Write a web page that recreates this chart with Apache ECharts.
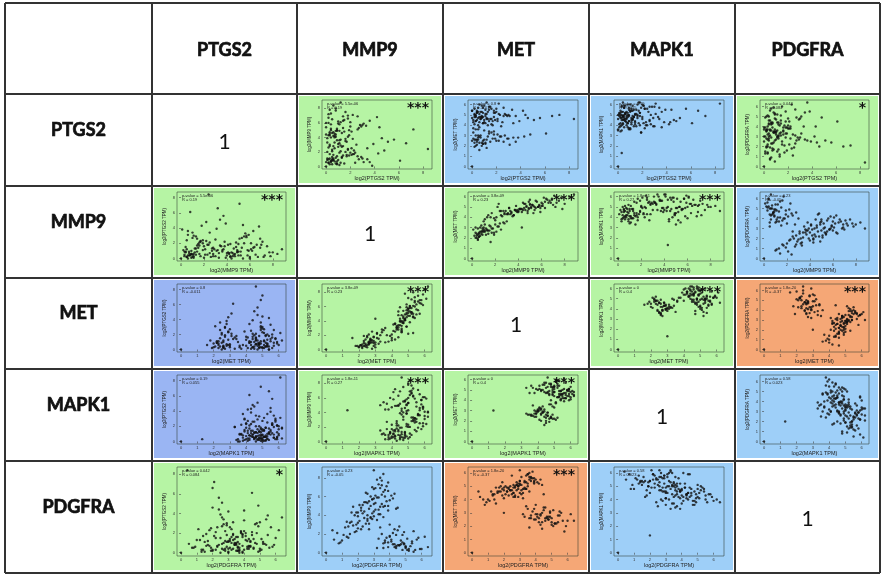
<!DOCTYPE html>
<html>
<head>
<meta charset="utf-8">
<script src="https://cdn.jsdelivr.net/npm/echarts@6/dist/echarts.min.js"></script>
<style>
  html, body { margin: 0; padding: 0; background: #fff; }
  #chart { width: 886px; height: 578px; }
</style>
</head>
<body>
<div id="chart"></div>
<script>
// genes in table order (rows and columns)
const genes = ["PTGS2", "MMP9", "MET", "MAPK1", "PDGFRA"];

// log2 TPM per sample, same sample order in every array:
// 102 high-MET samples, 56 low-MET samples, then two outliers
const ptgs2 = [
  0.6, 1.2, 0.3, 2.0, 0.9, 0.2, 1.5, 0.5, 3.1, 0.1,
  1.8, 0.8, 2.4, 0.4, 1.0, 1.4, 0.7, 2.8, 0.2, 1.1,
  0.3, 1.7, 0.9, 3.6, 0.5, 1.3, 0.0, 2.2, 0.6, 1.9,
  0.4, 1.2, 4.2, 0.8, 0.1, 1.6, 2.6, 0.9, 0.3, 1.0,
  5.6, 1.4, 0.7, 2.1, 0.2, 1.1, 0.6, 3.3, 0.4, 1.8,
  0.9, 0.5, 2.5, 7.2, 1.3, 0.0, 1.6, 0.8, 2.9, 0.3,
  1.5, 4.6, 0.6, 1.0, 2.3, 0.2, 1.1, 0.7, 1.9, 8.4,
  0.4, 1.3, 2.7, 0.5, 1.2, 3.9, 0.8, 2.0, 0.1, 1.6,
  3.0, 0.6, 1.4, 0.2, 2.2, 5.1, 0.9, 1.7, 0.3, 2.6,
  0.7, 1.1, 3.4, 0.0, 1.8, 0.5, 4.4, 1.2, 0.8, 2.1,
  0.4, 6.6,
  0.5, 1.3, 0.2, 2.1, 0.9, 3.4, 0.4, 1.6, 0.1, 2.6,
  0.7, 1.1, 4.3, 0.3, 1.8, 0.8, 2.9, 0.0, 1.4, 0.6,
  3.8, 1.0, 0.4, 2.3, 1.2, 0.2, 4.8, 0.9, 1.7, 0.5,
  2.0, 0.1, 3.1, 0.7, 1.5, 0.3, 1.0, 0.6, 2.4, 0.8,
  6.1, 1.9, 0.3, 1.2, 2.7, 3.6, 0.5, 1.4, 0.9, 2.2,
  0.6, 1.8, 0.2, 3.0, 1.1, 0.4,
  0.0, 0.3
];
const mmp9 = [
  4.2, 6.1, 2.8, 5.5, 3.6, 7.2, 4.8, 2.3, 5.9, 3.9,
  6.6, 4.4, 1.9, 5.2, 3.1, 6.9, 4.0, 5.7, 2.6, 4.9,
  7.8, 3.4, 5.0, 6.3, 2.1, 4.6, 5.4, 3.8, 8.4, 4.3,
  5.8, 2.9, 6.8, 4.1, 3.3, 7.5, 5.1, 1.4, 4.7, 6.2,
  3.7, 5.3, 4.5, 2.5, 6.0, 3.2, 1.1, 5.6, 4.0, 7.0,
  4.9, 6.5, 3.0, 5.1, 2.7, 4.4, 3.5, 8.0, 5.5, 1.7,
  6.4, 3.9, 4.7, 5.9, 2.2, 6.7, 3.6, 4.2, 5.0, 2.4,
  7.3, 1.3, 5.3, 4.6, 8.8, 3.1, 4.9, 6.1, 2.0, 3.8,
  5.7, 2.8, 6.3, 4.3, 7.1, 3.4, 5.2, 1.6, 4.5, 6.9,
  3.3, 5.8, 2.5, 6.0, 4.1, 1.0, 5.4, 3.7, 7.7, 4.8,
  5.0, 3.2,
  0.8, 1.2, 0.5, 1.6, 0.3, 1.0, 0.6, 2.0, 0.9, 1.4,
  0.7, 0.2, 1.8, 1.1, 2.4, 0.4, 1.3, 0.6, 1.5, 0.9,
  0.1, 2.7, 0.8, 1.7, 0.5, 1.0, 2.2, 0.7, 1.4, 0.3,
  1.9, 1.1, 0.6, 2.5, 0.4, 3.0, 0.9, 1.6, 0.5, 1.2,
  0.8, 1.5, 0.3, 2.1, 1.0, 0.6, 1.3, 2.8, 0.4, 1.7,
  0.9, 2.3, 0.5, 1.1, 1.9, 0.7,
  0.0, 4.3
];
const met = [
  4.8, 5.1, 4.4, 5.6, 4.2, 5.0, 4.6, 5.3, 4.9, 4.5,
  5.4, 4.7, 3.9, 5.2, 4.3, 5.8, 4.6, 5.0, 4.1, 5.5,
  4.8, 4.4, 5.7, 4.9, 4.0, 5.3, 4.7, 5.1, 6.0, 4.5,
  5.2, 4.6, 5.4, 4.8, 4.3, 5.6, 4.9, 4.2, 5.0, 5.9,
  4.7, 4.4, 5.3, 4.6, 5.1, 4.9, 3.8, 5.5, 4.5, 5.2,
  4.8, 5.7, 4.3, 5.0, 4.6, 5.4, 4.1, 5.3, 4.9, 4.4,
  5.8, 4.7, 5.1, 4.5, 5.0, 5.6, 4.2, 4.8, 5.2, 4.6,
  5.4, 4.0, 5.1, 4.7, 6.2, 4.4, 4.9, 5.3, 3.7, 4.6,
  5.0, 4.3, 5.5, 4.8, 6.1, 4.5, 5.2, 4.0, 4.9, 5.7,
  4.6, 5.1, 4.2, 5.4, 4.8, 3.6, 5.0, 4.7, 5.9, 4.4,
  5.3, 4.9,
  2.6, 2.9, 2.3, 3.1, 2.5, 2.8, 2.1, 3.3, 2.7, 2.4,
  3.0, 2.2, 2.9, 2.6, 3.4, 2.0, 2.7, 2.5, 3.2, 2.3,
  2.8, 3.5, 2.4, 2.9, 1.8, 2.6, 3.1, 2.2, 2.7, 3.0,
  2.5, 3.3, 2.1, 2.8, 2.4, 3.6, 2.6, 1.6, 2.9, 2.3,
  3.2, 2.7, 2.0, 2.6, 3.0, 2.4, 2.8, 3.4, 2.2, 2.5,
  2.9, 3.1, 1.9, 2.7, 2.3, 2.6,
  0.0, 3.0
];
const mapk1 = [
  4.6, 5.9, 5.3, 4.8, 5.7, 4.2, 5.5, 5.0, 6.1, 4.9,
  5.2, 3.8, 5.6, 4.5, 6.0, 5.1, 4.7, 5.8, 5.4, 4.3,
  5.0, 6.2, 4.4, 5.3, 5.9, 4.8, 3.5, 5.6, 5.1, 5.7,
  4.9, 5.4, 4.1, 6.0, 5.2, 4.7, 5.8, 5.5, 4.0, 5.3,
  5.6, 5.0, 4.6, 5.9, 3.9, 5.4, 5.1, 4.8, 6.2, 5.2,
  4.4, 5.7, 5.3, 4.9, 5.5, 3.6, 6.0, 5.0, 4.7, 5.8,
  5.1, 4.5, 5.9, 5.4, 4.3, 5.2, 5.6, 4.9, 3.3, 6.1,
  5.3, 4.8, 5.0, 5.7, 4.6, 5.5, 4.2, 6.0, 5.1, 4.9,
  5.8, 5.2, 4.4, 5.0, 5.6, 4.7, 3.7, 5.4, 5.9, 4.5,
  5.3, 4.1, 5.7, 5.0, 6.2, 4.8, 5.5, 4.6, 5.2, 5.9,
  4.9, 5.4,
  4.5, 3.9, 4.8, 4.2, 3.6, 4.6, 4.1, 5.0, 3.8, 4.4,
  4.0, 4.7, 4.3, 3.5, 4.9, 4.2, 3.9, 4.6, 4.1, 5.2,
  4.3, 3.7, 4.8, 4.0, 4.5, 3.4, 4.4, 4.9, 4.2, 3.8,
  4.6, 4.1, 5.1, 4.3, 3.9, 4.7, 3.6, 4.4, 4.0, 4.8,
  4.2, 3.3, 4.5, 4.9, 4.1, 3.8, 4.6, 4.3, 5.0, 3.7,
  4.4, 4.0, 4.7, 3.9, 4.5, 4.2,
  0.0, 1.3
];
const pdgfra = [
  2.9, 3.1, 1.4, 3.8, 2.6, 3.5, 2.2, 1.9, 3.3, 3.0,
  3.9, 2.4, 1.1, 3.0, 2.7, 3.4, 1.8, 2.9, 2.0, 3.6,
  3.2, 2.1, 3.7, 2.6, 0.7, 3.3, 2.5, 2.8, 3.6, 1.6,
  4.2, 1.7, 3.0, 3.4, 1.3, 3.9, 2.3, 0.5, 2.7, 3.5,
  2.4, 3.1, 3.9, 2.2, 2.8, 1.5, 0.9, 4.0, 2.6, 2.9,
  3.4, 3.6, 1.9, 2.1, 1.2, 3.0, 3.2, 3.4, 2.7, 1.3,
  2.5, 2.0, 4.4, 3.2, 1.8, 3.7, 2.9, 2.3, 3.9, 0.4,
  3.3, 1.0, 2.6, 3.1, 3.0, 2.5, 1.7, 4.1, 1.5, 3.6,
  2.9, 2.3, 4.3, 1.9, 3.8, 2.6, 3.5, 1.4, 2.2, 3.1,
  1.6, 3.0, 2.7, 3.7, 3.3, 0.8, 2.4, 2.8, 3.5, 4.5,
  2.8, 2.0,
  4.6, 4.1, 5.0, 3.8, 4.8, 5.4, 4.3, 3.5, 4.9, 5.7,
  4.4, 5.2, 4.0, 3.7, 4.5, 5.9, 4.7, 3.9, 5.1, 4.2,
  5.5, 3.4, 4.6, 6.2, 4.4, 3.6, 4.9, 5.3, 4.1, 5.6,
  4.8, 3.9, 5.0, 4.3, 6.0, 4.0, 4.7, 5.8, 3.2, 5.4,
  4.5, 3.3, 5.1, 4.2, 4.9, 6.4, 3.7, 4.6, 5.2, 4.0,
  4.3, 5.5, 3.6, 4.8, 4.4, 5.0,
  0.0, 2.0
];
const values = [ptgs2, mmp9, met, mapk1, pdgfra];

// correlation results per gene pair "i-j"
const pValues = {
  "0-1": "5.5e-06", "0-2": "0.8", "0-3": "0.19", "0-4": "0.042",
  "1-2": "3.8e-09", "1-3": "1.8e-11", "1-4": "0.23",
  "2-3": "0", "2-4": "1.8e-20", "3-4": "0.58"
};
const rValues = {
  "0-1": "0.19", "0-2": "-0.011", "0-3": "0.055", "0-4": "0.084",
  "1-2": "0.23", "1-3": "0.27", "1-4": "-0.05",
  "2-3": "0.4", "2-4": "-0.37", "3-4": "0.023"
};
const stars = {
  "0-1": "***", "0-2": "", "0-3": "", "0-4": "*",
  "1-2": "***", "1-3": "***", "1-4": "",
  "2-3": "***", "2-4": "***", "3-4": ""
};
// panel colour per [row][col]
const panelColors = [
  [null, "g", "b", "b", "g"],
  ["g", null, "g", "g", "b"],
  ["p", "g", null, "g", "o"],
  ["p", "g", "g", null, "b"],
  ["g", "b", "o", "b", null]
];
const palette = { g: "#b6f4a4", b: "#9ecff8", p: "#9ab5f3", o: "#f5a776" };

// table geometry
const colX = [5, 152, 297, 443, 589, 735, 880];
const rowY = [3, 94, 186, 278, 369, 461, 573];

const chart = echarts.init(document.getElementById("chart"), null, { renderer: "canvas" });

const grids = [], xAxes = [], yAxes = [], series = [], graphics = [];
// heavy header labels (stroke thickens the bold face)
const headStyle = { font: "bold 18px Lato", fill: "#111", stroke: "#111", lineWidth: 0.7, align: "center", verticalAlign: "middle" };

/* ── table frame ─────────────────────────── */
colX.forEach(x => graphics.push({
  type: "line", shape: { x1: x, y1: rowY[0], x2: x, y2: rowY[6] },
  style: { stroke: "#333", lineWidth: 2 }, z: 20
}));
rowY.forEach(y => graphics.push({
  type: "line", shape: { x1: colX[0], y1: y, x2: colX[6], y2: y },
  style: { stroke: "#333", lineWidth: 2 }, z: 20
}));

/* ── headers ─────────────────────────────── */
genes.forEach((g, i) => {
  graphics.push({
    type: "text", x: (colX[i + 1] + colX[i + 2]) / 2, y: (rowY[0] + rowY[1]) / 2 + 2,
    style: Object.assign({ text: g }, headStyle)
  });
  graphics.push({
    type: "text", x: (colX[0] + colX[1]) / 2, y: (rowY[i + 1] + rowY[i + 2]) / 2 - 10,
    style: Object.assign({ text: g }, headStyle)
  });
});

const pad = v => (v.max - v.min) * 0.04;

/* ── cells ───────────────────────────────── */
for (let r = 0; r < 5; r++) {
  for (let c = 0; c < 5; c++) {
    const cx0 = colX[c + 1], cx1 = colX[c + 2];
    const cy0 = rowY[r + 1], cy1 = rowY[r + 2];
    if (r === c) {
      graphics.push({
        type: "text", x: (cx0 + cx1) / 2, y: (cy0 + cy1) / 2 + 2,
        style: { text: "1", font: "21px Lato", fill: "#111", align: "center", verticalAlign: "middle" }
      });
      continue;
    }
    const key = r < c ? `${r}-${c}` : `${c}-${r}`;
    const px = cx0 + 2, py = cy0 + 2, pw = cx1 - cx0 - 4, ph = cy1 - cy0 - 5;
    graphics.push({
      type: "rect", shape: { x: px, y: py, width: pw, height: ph },
      style: { fill: palette[panelColors[r][c]] }, z: -10
    });

    const gl = px + 23, gt = py + 4, gw = pw - 32, gh = ph - 4 - 14;
    const idx = grids.length;
    grids.push({
      left: gl, top: gt, width: gw, height: gh, show: true,
      backgroundColor: "transparent", borderColor: "rgba(50,60,50,0.55)", borderWidth: 1
    });
    const axisCommon = {
      gridIndex: idx, type: "value",
      min: v => v.min - pad(v), max: v => v.max + pad(v),
      splitLine: { show: false }, axisLine: { show: false },
      axisTick: { show: true, length: 2, lineStyle: { color: "#444", width: 0.6 } },
      axisLabel: { fontSize: 4, color: "#333", margin: 2, showMinLabel: false, showMaxLabel: false },
      nameLocation: "middle"
    };
    xAxes.push(Object.assign({}, axisCommon, {
      name: `log2(${genes[r]} TPM)`, nameGap: 6,
      nameTextStyle: { fontSize: 5.5, color: "#222", fontFamily: "Liberation Sans" }
    }));
    yAxes.push(Object.assign({}, axisCommon, {
      name: `log2(${genes[c]} TPM)`, nameGap: 10, nameRotate: 90,
      nameTextStyle: { fontSize: 4.5, color: "#222", fontFamily: "Liberation Sans" }
    }));
    series.push({
      type: "scatter", xAxisIndex: idx, yAxisIndex: idx,
      data: values[r].map((v, i) => [v, values[c][i]]),
      symbol: "circle", symbolSize: 2.4, itemStyle: { color: "#111" },
      silent: true, animation: false
    });

    graphics.push({
      type: "text", x: gl + 5, y: gt + 2,
      style: {
        text: `p-value = ${pValues[key]}\nR = ${rValues[key]}`,
        font: "4px Liberation Sans", lineHeight: 4.2, fill: "#222", align: "left", verticalAlign: "top"
      }, z: 10
    });
    if (stars[key]) {
      graphics.push({
        type: "text", x: gl + gw - 3, y: gt + 1,
        style: { text: stars[key], font: "bold 14px DejaVu Sans", fill: "#111", align: "right", verticalAlign: "top" },
        z: 10
      });
    }
  }
}

chart.setOption({
  backgroundColor: "#fff",
  animation: false,
  grid: grids,
  xAxis: xAxes,
  yAxis: yAxes,
  series: series,
  graphic: { elements: graphics }
});
</script>
</body>
</html>
